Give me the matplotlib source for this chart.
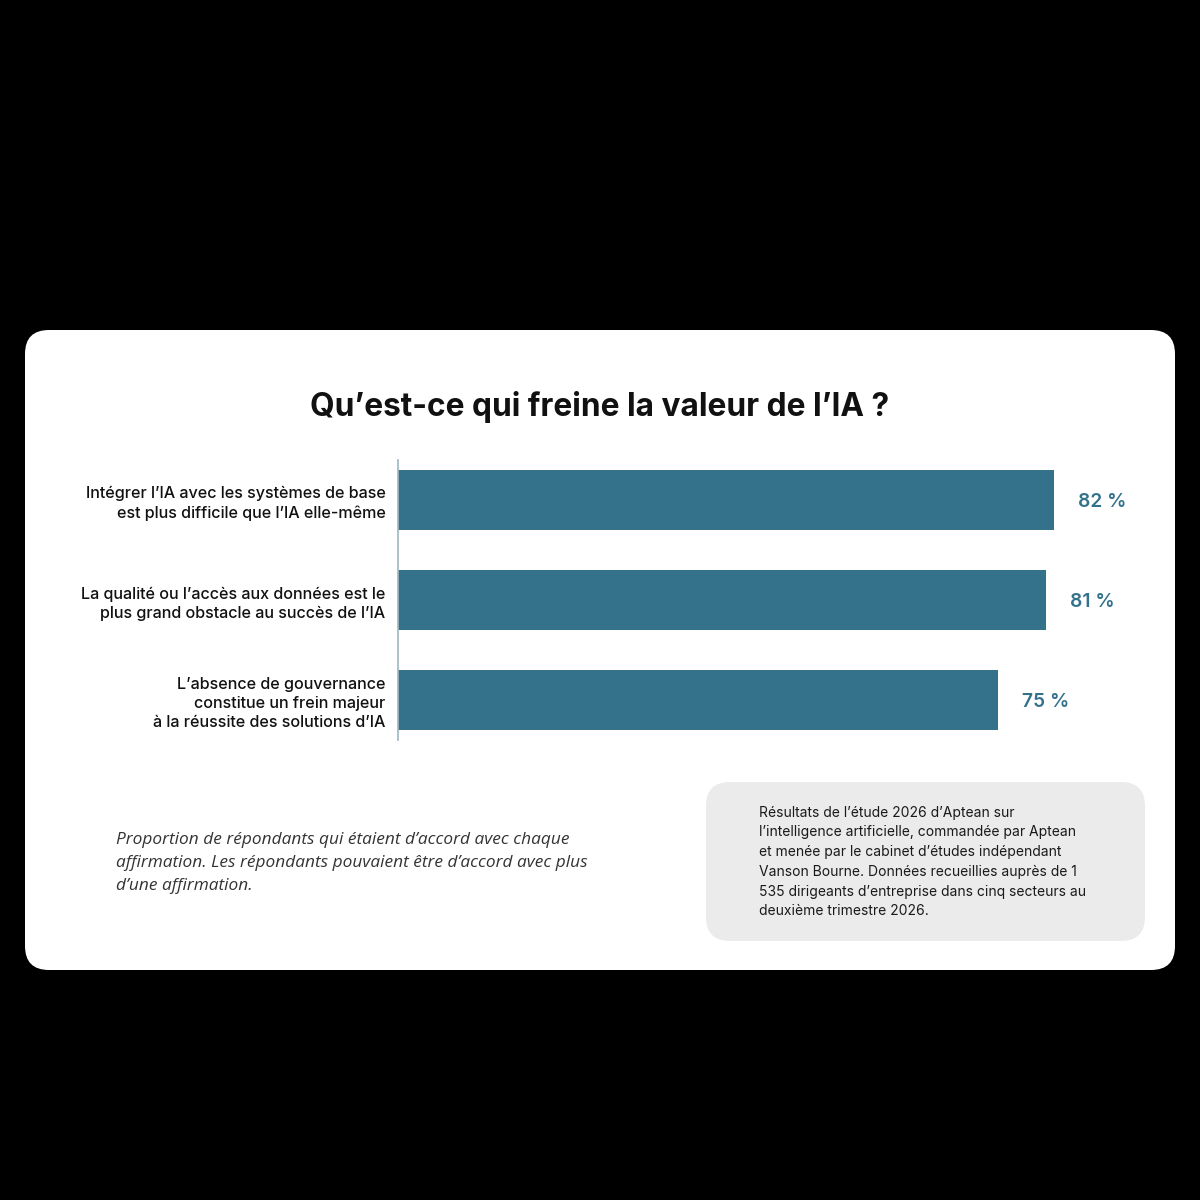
import matplotlib
matplotlib.use("Agg")
import matplotlib.pyplot as plt
from matplotlib.patches import FancyBboxPatch

categories = [
    "Intégrer l’IA avec les systèmes de base\nest plus difficile que l’IA elle-même",
    "La qualité ou l’accès aux données est le\nplus grand obstacle au succès de l’IA",
    "L’absence de gouvernance\nconstitue un frein majeur\nà la réussite des solutions d’IA",
]
values = [82, 81, 75]
value_labels = ["82 %", "81 %", "75 %"]

title = "Qu’est-ce qui freine la valeur de l’IA ?"
footnote = ("Proportion de répondants qui étaient d’accord avec chaque\n"
            "affirmation. Les répondants pouvaient être d’accord avec plus\n"
            "d’une affirmation.")
source = ("Résultats de l’étude 2026 d’Aptean sur\n"
          "l’intelligence artificielle, commandée par Aptean\n"
          "et menée par le cabinet d’études indépendant\n"
          "Vanson Bourne. Données recueillies auprès de 1\n"
          "535 dirigeants d’entreprise dans cinq secteurs au\n"
          "deuxième trimestre 2026.")

BAR = "#34728c"
W = H = 1200.0

fig = plt.figure(figsize=(12, 12), dpi=100, facecolor="black")

def fx(px):
    return px / W

def fy(py):
    return 1 - py / H

# white card
card = FancyBboxPatch((fx(25) + 0.02, fy(970) + 0.02), fx(1150) - 0.04, (640 / H) - 0.04,
                      boxstyle="round,pad=0.02,rounding_size=0.02",
                      transform=fig.transFigure, facecolor="white", edgecolor="none", zorder=-2)
fig.patches.append(card)

# grey source box
gbox = FancyBboxPatch((fx(706) + 0.02, fy(941) + 0.02), fx(439) - 0.04, (159 / H) - 0.04,
                      boxstyle="round,pad=0.02,rounding_size=0.02",
                      transform=fig.transFigure, facecolor="#ebebeb", edgecolor="none", zorder=-1)
fig.patches.append(gbox)

ax = fig.add_axes([fx(398), fy(740), 800 / W, 280 / H])
ax.set_zorder(1)
ax.set_facecolor("none")
y = list(range(len(values)))
ax.barh(y, values, height=0.6, color=BAR, zorder=2)
ax.set_xlim(0, 100)
ax.set_ylim(2.4, -0.4)
for s in ["top", "right", "bottom"]:
    ax.spines[s].set_visible(False)
ax.spines["left"].set_color("#9fb6c0")
ax.spines["left"].set_linewidth(1.2)
ax.set_xticks([])
ax.set_yticks(y)
ax.set_yticklabels(categories, fontsize=11.6, family="Inter", fontweight="medium",
                   color="#111111", linespacing=1.32, ha="right")
ax.tick_params(axis="y", length=0, pad=9)

for yi, v, lab in zip(y, values, value_labels):
    ax.annotate(lab, (v, yi), xytext=(24, 0), textcoords="offset pixels",
                va="center_baseline", ha="left", fontsize=13.8, fontweight="semibold",
                family="Inter", color=BAR)

fig.text(0.5, fy(407), title, ha="center", va="center", fontsize=22.8,
         fontweight="bold", family="Inter", color="#111111")

fig.text(fx(116), fy(863), footnote, ha="left", va="center", fontsize=12.4,
         style="italic", family="Open Sans", color="#333333", linespacing=1.55)

fig.text(fx(759), fy(862), source, ha="left", va="center", fontsize=10.0,
         family="Inter", color="#1a1a1a", linespacing=1.52)

fig.savefig("out.png", dpi=100, facecolor="black")
